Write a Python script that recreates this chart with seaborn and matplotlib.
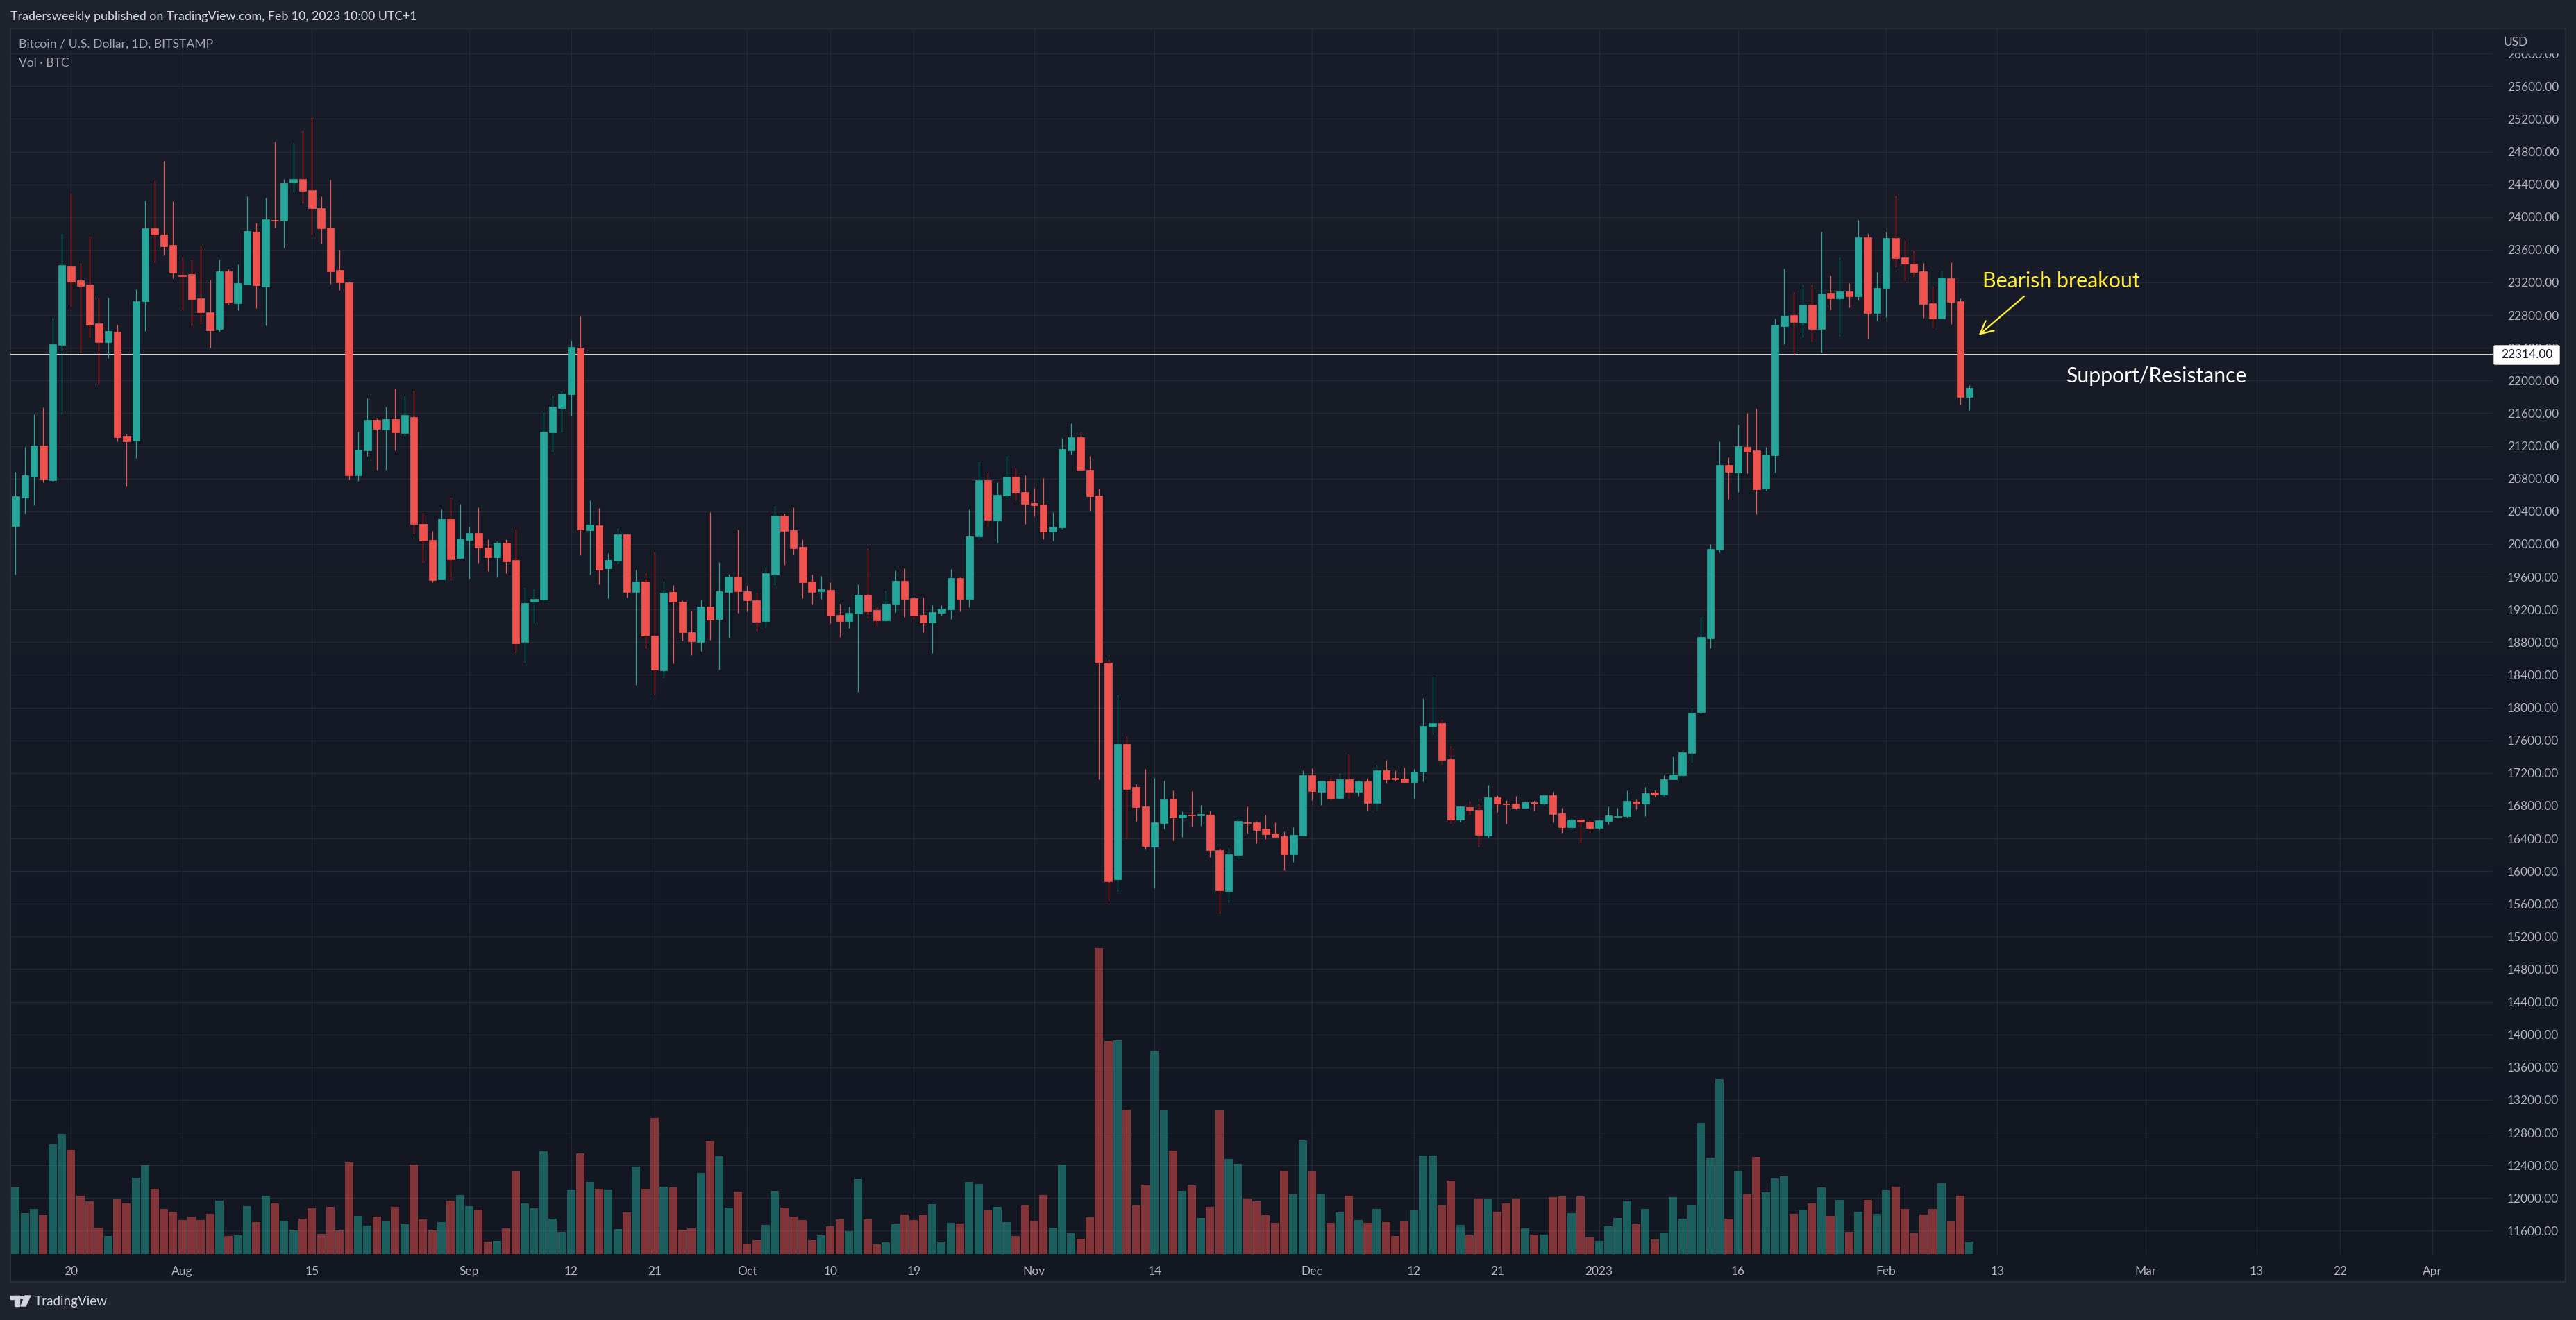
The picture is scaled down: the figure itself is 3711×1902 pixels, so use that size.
import numpy as np
import matplotlib
matplotlib.use("Agg")
import matplotlib.pyplot as plt
from matplotlib.patches import Rectangle, Polygon, Circle, FancyBboxPatch
import seaborn as sns

# BTC daily candles (first bar = Jul 14 2022)
opens = [20220, 20568, 20822, 21204, 20780, 22435, 23395, 23225, 23174, 22699,
         22469, 22597, 21323, 21264, 22970, 23862, 23785, 23658, 23293, 23301,
         23004, 22834, 22631, 23335, 22945, 23174, 23819, 23149, 23964, 23955,
         24422, 24465, 24329, 24108, 23870, 23352, 23200, 20839, 21145, 21519,
         21400, 21527, 21357, 21552, 20246, 20050, 19566, 20305, 19830, 20050,
         20135, 19957, 19838, 20016, 19804, 18802, 19295, 19320, 21367, 21665,
         21834, 22403, 20170, 20229, 19702, 19795, 20119, 19413, 19541, 18877,
         18454, 19413, 19294, 18922, 18803, 19235, 19083, 19413, 19601, 19422,
         19312, 19056, 19625, 20348, 20170, 19964, 19541, 19422, 19440, 19133,
         19056, 19151, 19381, 19193, 19065, 19261, 19550, 19336, 19133, 19041,
         19160, 19202, 19583, 19330, 20092, 20780, 20289, 20593, 20822, 20637,
         20500, 20482, 20152, 20202, 21146, 21305, 20907, 20594, 18548, 15900,
         17553, 17029, 16789, 16298, 16586, 16883, 16655, 16688, 16680, 16688,
         16253, 15754, 16196, 16594, 16594, 16517, 16460, 16424, 16205, 16432,
         17171, 16968, 17102, 16891, 17122, 16968, 17094, 16830, 17232, 17139,
         17130, 17086, 17216, 17764, 17809, 17366, 16627, 16781, 16749, 16432,
         16899, 16822, 16822, 16773, 16842, 16822, 16923, 16704, 16534, 16627,
         16603, 16524, 16611, 16660, 16670, 16849, 16822, 16957, 16936, 17120,
         17174, 17445, 17943, 18842, 19930, 20964, 20872, 21186, 21143, 20677,
         21084, 22665, 22800, 22708, 22930, 22632, 23071, 23006, 23087, 23028,
         23753, 22827, 23131, 23742, 23504, 23428, 23336, 22946, 22757, 23250,
         22968, 21798]
highs = [20882, 21187, 21586, 21671, 22767, 23802, 24286, 23437, 23768, 23013,
         23013, 22682, 21349, 23115, 24201, 24448, 24685, 24193, 23514, 23471,
         23650, 23234, 23480, 23361, 23420, 24252, 23930, 24235, 24923, 24465,
         24906, 25059, 25220, 24252, 24456, 23599, 23208, 21374, 21782, 21536,
         21680, 21901, 21816, 21875, 20381, 20161, 20423, 20576, 20491, 20212,
         20449, 20059, 20033, 20059, 20186, 19465, 19456, 21611, 21817, 21876,
         22487, 22784, 20533, 20441, 19890, 20193, 20125, 19684, 19643, 19905,
         19550, 19500, 19312, 19184, 19321, 20390, 19780, 19634, 20179, 19491,
         19395, 19720, 20473, 20372, 20450, 20059, 19625, 19610, 19532, 19270,
         19235, 19506, 19949, 19235, 19431, 19675, 19702, 19363, 19345, 19253,
         19253, 19693, 19592, 20423, 21018, 20873, 20756, 21087, 20932, 20840,
         20688, 20807, 20390, 21298, 21474, 21366, 21078, 20680, 18588, 18158,
         17646, 17061, 17248, 17139, 17102, 16984, 16728, 16976, 16805, 16741,
         16278, 16290, 16655, 16789, 16611, 16688, 16594, 16485, 16534, 17232,
         17256, 17108, 17155, 17195, 17427, 17102, 17139, 17297, 17358, 17232,
         17265, 17248, 18113, 18377, 17857, 17528, 16797, 16858, 16822, 17053,
         16923, 16866, 16915, 16850, 16858, 16940, 16968, 16773, 16655, 16655,
         16627, 16628, 16789, 16773, 16985, 16876, 17028, 16985, 17174, 17401,
         17483, 17997, 19118, 20001, 21257, 21062, 21457, 21603, 21652, 21186,
         22757, 23369, 23082, 23174, 23174, 23818, 23288, 23504, 23190, 23964,
         23802, 23325, 23818, 24262, 23721, 23591, 23434, 23158, 23336, 23445,
         23006, 21945]
lows = [19622, 20372, 20474, 20755, 20763, 21586, 22902, 22342, 22520, 21952,
        22274, 21255, 20704, 21052, 22605, 23446, 23531, 23251, 22868, 22673,
        22690, 22401, 22597, 22928, 22860, 23174, 22885, 22673, 23870, 23624,
        24303, 24167, 23785, 23675, 23183, 23106, 20788, 20771, 21077, 20907,
        20907, 21145, 21323, 20126, 19770, 19532, 19566, 19558, 19830, 19575,
        19770, 19668, 19592, 19643, 18675, 18548, 19032, 19312, 21129, 21367,
        21569, 19863, 19625, 19506, 19336, 19762, 19345, 18279, 18725, 18157,
        18368, 18538, 18821, 18642, 18693, 18827, 18463, 18853, 19160, 19175,
        18937, 18981, 19500, 19744, 19872, 19336, 19261, 19330, 19032, 18862,
        18973, 18195, 19092, 18996, 19060, 19166, 19107, 19083, 18922, 18666,
        19124, 19083, 19175, 19226, 20068, 20211, 20015, 20569, 20533, 20244,
        20339, 20059, 20042, 20188, 21096, 20905, 20408, 17122, 15636, 15754,
        16399, 16611, 16261, 15786, 16517, 16375, 16416, 16542, 16554, 16168,
        15482, 15620, 16152, 16460, 16339, 16391, 16408, 16010, 16111, 16430,
        16867, 16806, 16875, 16888, 16883, 16915, 16741, 16741, 17078, 17102,
        17084, 16883, 17094, 17671, 17289, 16578, 16603, 16680, 16298, 16408,
        16720, 16578, 16757, 16770, 16741, 16806, 16594, 16468, 16493, 16339,
        16477, 16508, 16567, 16654, 16654, 16757, 16670, 16909, 16920, 17118,
        17158, 17326, 17927, 18723, 19898, 20553, 20634, 20862, 20363, 20656,
        20872, 22443, 22318, 22529, 22481, 22340, 22871, 22546, 22898, 22990,
        22513, 22735, 22773, 23385, 23217, 23266, 22768, 22649, 22755, 22692,
        21706, 21636]
closes = [20585, 20839, 21204, 20797, 22444, 23412, 23208, 23157, 22682, 22469,
          22605, 21306, 21255, 22970, 23862, 23785, 23641, 23318, 23276, 22996,
          22834, 22614, 23335, 22953, 23191, 23828, 23166, 23972, 23958, 24414,
          24465, 24320, 24108, 23862, 23335, 23200, 20839, 21153, 21519, 21408,
          21527, 21366, 21578, 20245, 20042, 19558, 20305, 19813, 20067, 20135,
          19957, 19838, 20016, 19787, 18785, 19278, 19329, 21376, 21680, 21840,
          22409, 20179, 20238, 19684, 19803, 20119, 19413, 19541, 18877, 18463,
          19404, 19294, 18922, 18812, 19235, 19074, 19422, 19601, 19422, 19312,
          19047, 19643, 20348, 20161, 19949, 19532, 19413, 19446, 19124, 19056,
          19160, 19381, 19175, 19065, 19270, 19550, 19330, 19124, 19041, 19166,
          19211, 19583, 19330, 20092, 20780, 20298, 20601, 20822, 20628, 20491,
          20473, 20152, 20211, 21161, 21307, 20907, 20586, 18548, 15872, 17553,
          17000, 16781, 16306, 16594, 16875, 16655, 16688, 16680, 16696, 16253,
          15762, 16205, 16611, 16586, 16501, 16448, 16416, 16205, 16440, 17171,
          16976, 17102, 16883, 17122, 16968, 17094, 16830, 17232, 17122, 17122,
          17086, 17216, 17776, 17809, 17358, 16627, 16789, 16749, 16440, 16899,
          16822, 16814, 16773, 16842, 16822, 16923, 16696, 16534, 16627, 16603,
          16525, 16622, 16681, 16670, 16860, 16822, 16952, 16936, 17120, 17179,
          17450, 17938, 18863, 19941, 20964, 20883, 21197, 21127, 20672, 21094,
          22681, 22795, 22714, 22930, 22632, 23066, 23006, 23087, 23028, 23753,
          22827, 23131, 23742, 23499, 23428, 23325, 22936, 22757, 23260, 22963,
          21798, 21907]
volumes = [96, 59, 65, 56, 158, 173, 150, 84, 76, 38,
           26, 79, 73, 110, 128, 94, 65, 61, 49, 54,
           49, 58, 77, 26, 27, 69, 46, 84, 73, 48,
           34, 51, 66, 29, 68, 34, 132, 55, 41, 54,
           47, 68, 43, 129, 50, 34, 46, 77, 85, 69,
           64, 18, 19, 37, 119, 73, 66, 148, 51, 32,
           93, 145, 104, 94, 93, 36, 60, 126, 94, 196,
           97, 96, 35, 37, 117, 163, 141, 67, 90, 15,
           20, 42, 91, 67, 54, 49, 20, 27, 40, 50,
           33, 108, 50, 14, 17, 43, 57, 49, 56, 72,
           18, 45, 44, 104, 101, 63, 68, 46, 26, 70,
           48, 85, 38, 129, 30, 22, 53, 441, 307, 308,
           208, 70, 100, 293, 207, 149, 91, 99, 52, 68,
           207, 137, 130, 80, 76, 56, 45, 120, 86, 164,
           119, 87, 45, 60, 84, 49, 45, 65, 46, 26,
           47, 63, 142, 142, 70, 106, 42, 27, 80, 79,
           61, 73, 80, 37, 28, 28, 82, 83, 59, 83,
           24, 19, 40, 52, 76, 43, 65, 21, 31, 82,
           51, 71, 189, 139, 252, 51, 120, 86, 140, 89,
           109, 112, 58, 64, 73, 96, 55, 78, 32, 61,
           78, 58, 92, 97, 65, 30, 57, 65, 102, 47,
           84, 18]

price_ticks = list(range(11600, 26001, 400))
day_ticks = [6, 18, 32, 49, 60, 69, 79, 88, 97, 110, 123, 140, 151, 160, 171, 186, 202, 214, 230, 242, 251, 261]
day_labels = ["20", "Aug", "15", "Sep", "12", "21", "Oct", "10", "19", "Nov", "14",
              "Dec", "12", "21", "2023", "16", "Feb", "13", "Mar", "13", "22", "Apr"]
level = 22314

W, H = 3711, 1902
UP, DOWN = "#26a69a", "#ef5350"
FRAME = "#1e222d"
BORDER = "#2a2e39"
GRID = "#252934"
TEXT = "#b2b5be"
PANEL_TOP = "#191d29"

sns.set_theme(style="dark", rc={"figure.facecolor": FRAME, "savefig.facecolor": FRAME})
plt.rcParams["font.family"] = ["Lato", "DejaVu Sans"]


def box(x0, y0, x1, y1):
    # pixel box (y from the top) to figure fractions
    return [x0 / W, 1 - y1 / H, (x1 - x0) / W, (y1 - y0) / H]


def fx(x):
    return x / W


def fy(y):
    return 1 - y / H


fig = plt.figure(figsize=(W / 100, H / 100), dpi=100)

# panel with the faint vertical gradient
bg = fig.add_axes(box(15, 41, 3696, 1847), zorder=0)
bg.imshow(np.linspace(0, 1, 256).reshape(-1, 1), aspect="auto", extent=[0, 1, 0, 1], origin="lower",
          cmap=matplotlib.colors.LinearSegmentedColormap.from_list("panel", ["#131722", PANEL_TOP]))
bg.set_xticks([])
bg.set_yticks([])
for s in bg.spines.values():
    s.set_color(BORDER)
    s.set_linewidth(1.6)

ax = fig.add_axes(box(15, 41, 3591, 1807), zorder=1)
ax.patch.set_alpha(0)
ax_vol = ax.twinx()
ax_vol.patch.set_alpha(0)

idx = np.arange(len(closes))
o, h, l, c = map(np.array, (opens, highs, lows, closes))
rising = c >= o

# volume pane
ax_vol.set_zorder(1)
sns.barplot(x=idx, y=volumes, hue=np.where(rising, "up", "down"), palette={"up": UP, "down": DOWN},
            native_scale=True, dodge=False, width=0.9, saturation=1, alpha=0.5, errorbar=None,
            legend=False, linewidth=0, ax=ax_vol)
ax_vol.set_ylim(0, 1766)
ax_vol.set_yticks([])
ax_vol.set_ylabel("")
ax_vol.grid(False)
for s in ax_vol.spines.values():
    s.set_visible(False)

# wicks then bodies
ax.vlines(idx[rising], l[rising], h[rising], color=UP, lw=0.9, zorder=3)
ax.vlines(idx[~rising], l[~rising], h[~rising], color=DOWN, lw=0.9, zorder=3)
for mask, col in ((rising, UP), (~rising, DOWN)):
    sns.barplot(x=idx[mask], y=np.abs(c - o)[mask], bottom=np.minimum(o, c)[mask], native_scale=True,
                color=col, width=0.78, saturation=1, errorbar=None, linewidth=0.5, edgecolor=col,
                zorder=4, ax=ax)

ax.axhline(level, color="white", lw=1.2, zorder=2)

ax.set_xlim(-0.555, 267.5)
ax.set_ylim(11315, 26307)
ax.set_xlabel("")
ax.set_ylabel("")
ax.set_xticks(day_ticks)
ax.set_xticklabels(day_labels)
ax.set_yticks(price_ticks)
ax.set_yticklabels([f"{p}.00" for p in price_ticks])
ax.yaxis.tick_right()
ax.tick_params(axis="x", length=0, pad=12, labelsize=12.5, labelcolor=TEXT)
ax.tick_params(axis="y", length=0, pad=15, labelsize=12.5, labelcolor=TEXT, right=False, labelright=True)
ax.grid(True, color=GRID, lw=0.9, zorder=0)
ax.set_axisbelow(True)
for s in ax.spines.values():
    s.set_visible(False)

# annotations drawn on the chart
ax.annotate("", xy=(212.0, 22555), xytext=(216.9, 23030), zorder=6,
            arrowprops=dict(arrowstyle="->", color="#ffeb3b", lw=1.7, mutation_scale=33, shrinkA=0, shrinkB=0))
fig.text(fx(2856), fy(405), "Bearish breakout", color="#ffeb3b", fontsize=21.9, va="center", ha="left", zorder=6)
fig.text(fx(2976), fy(542), "Support/Resistance", color="white", fontsize=21.7, va="center", ha="left", zorder=6)

# cover the top of the price scale, USD sits on it
fig.add_artist(Rectangle((fx(3598), fy(76)), 96 / W, 34 / H, transform=fig.transFigure, color=PANEL_TOP, zorder=5))
fig.text(fx(3607), fy(61), "USD", color=TEXT, fontsize=12.5, va="center", ha="left", zorder=6)

# last price badge
fig.add_artist(FancyBboxPatch((fx(3593), fy(525)), 94 / W, 27 / H, transform=fig.transFigure,
                              boxstyle="round,pad=0,rounding_size=0.0005", fc="white", ec="white", lw=1, zorder=5))
fig.text(fx(3678), fy(511.5), f"{level}.00", color="#131722", fontsize=12.5, va="center", ha="right", zorder=6)

# header, legend, logo
fig.text(fx(15), fy(24), "Tradersweekly published on TradingView.com, Feb 10, 2023 10:00 UTC+1",
         color="#d1d4dc", fontsize=12.8, fontweight="medium", va="center", ha="left")
fig.text(fx(27), fy(64), "Bitcoin / U.S. Dollar, 1D, BITSTAMP", color="#a3a6af", fontsize=12.7, va="center", ha="left", zorder=6)
fig.text(fx(27), fy(91), "Vol · BTC", color="#a3a6af", fontsize=12.5, va="center", ha="left", zorder=6)
fig.text(fx(50), fy(1876), "TradingView", color="#d1d4dc", fontsize=13.6, va="center", ha="left")

logo = "#d1d4dc"
fig.add_artist(Rectangle((fx(15), fy(1872)), 13 / W, 5 / H, transform=fig.transFigure, color=logo))
fig.add_artist(Rectangle((fx(21), fy(1882)), 7 / W, 15 / H, transform=fig.transFigure, color=logo))
fig.add_artist(Polygon([(fx(36), fy(1867)), (fx(44), fy(1867)), (fx(37), fy(1882)), (fx(30), fy(1882))],
                       transform=fig.transFigure, color=logo))
fig.add_artist(Circle((fx(32), fy(1870)), 3 / W, transform=fig.transFigure, color=logo))

fig.savefig("out.png", dpi=100)
